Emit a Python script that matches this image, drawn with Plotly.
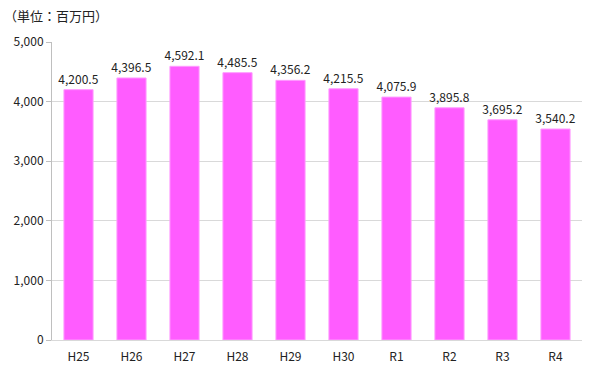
import plotly.graph_objects as go

categories = ["H25", "H26", "H27", "H28", "H29", "H30", "R1", "R2", "R3", "R4"]
values = [4200.5, 4396.5, 4592.1, 4485.5, 4356.2, 4215.5, 4075.9, 3895.8, 3695.2, 3540.2]
y_ticks = [0, 1000, 2000, 3000, 4000, 5000]

font = "Noto Sans CJK JP, Noto Sans, sans-serif"

fig = go.Figure(go.Bar(
    x=categories, y=values,
    marker=dict(color="#FF5CFF", line=dict(color="#FF9CFF", width=1)),
    text=[f"{v:,.1f}" for v in values],
    textposition="outside", cliponaxis=False, constraintext="none",
    textfont=dict(size=12, color="#222"),
))
fig.update_layout(
    width=600, height=375,
    margin=dict(l=52, r=18, t=42, b=35),
    plot_bgcolor="white", paper_bgcolor="white",
    font=dict(family=font, size=12, color="#222"),
    bargap=0.45, showlegend=False,
    annotations=[dict(text="（単位：百万円）", x=0, y=1, xref="paper", yref="paper",
                      xanchor="left", yanchor="top", showarrow=False,
                      font=dict(size=13, family=font, color="#222"),
                      xshift=-50, yshift=38)],
)
fig.update_yaxes(range=[0, 5000], tickvals=y_ticks, tickformat=",",
                 showgrid=True, gridcolor="#D9D9D9", gridwidth=1,
                 showline=True, linecolor="#BFBFBF", ticks="outside",
                 tickcolor="#BFBFBF", ticklen=5, zeroline=False)
fig.update_xaxes(showline=True, linecolor="#D9D9D9", ticks="", ticklabelstandoff=6)
fig.write_html("out.html", config={"displayModeBar": False},
               post_script="document.body.style.margin='0';")
